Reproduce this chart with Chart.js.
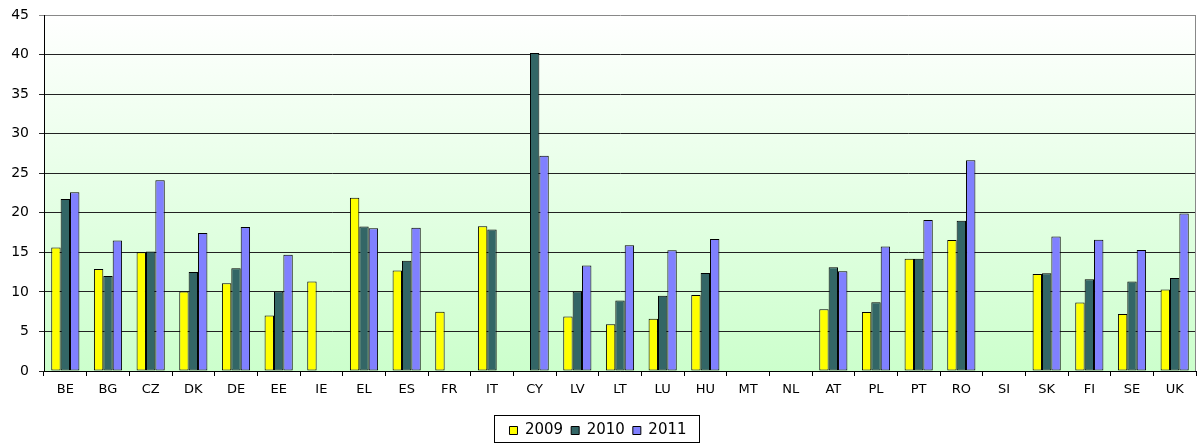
<!DOCTYPE html>
<html>
<head>
<meta charset="utf-8">
<script src="https://cdn.jsdelivr.net/npm/chart.js@4/dist/chart.umd.min.js"></script>
<style>
  html, body { margin: 0; padding: 0; background: #fff; }
  #wrap { width: 1197px; height: 444px; }
</style>
</head>
<body>
<div id="wrap"><canvas id="grafica"></canvas></div>
<script>
const paises = ['BE', 'BG', 'CZ', 'DK', 'DE', 'EE', 'IE', 'EL', 'ES', 'FR', 'IT', 'CY', 'LV', 'LT', 'LU', 'HU', 'MT', 'NL', 'AT', 'PL', 'PT', 'RO', 'SI', 'SK', 'FI', 'SE', 'UK'];
const v2009 = [15.6, 12.9, 15.0, 10.05, 11.1, 7.0, 11.3, 21.9, 12.7, 7.5, 18.3, null, 6.9, 5.9, 6.6, 9.6, null, null, 7.8, 7.45, 14.2, 16.55, null, 12.25, 8.65, 7.2, 10.3];
const v2010 = [21.75, 12.0, 15.1, 12.5, 13.0, 10.05, null, 18.25, 13.95, null, 17.9, 40.2, 10.05, 8.9, 9.5, 12.4, null, null, 13.1, 8.7, 14.2, 19.0, null, 12.35, 11.6, 11.3, 11.75];
const v2011 = [22.6, 16.5, 24.1, 17.45, 18.2, 14.7, null, 18.05, 18.1, null, null, 27.2, 13.35, 15.9, 15.25, 16.7, null, null, 12.6, 15.75, 19.1, 26.65, null, 17.0, 16.6, 15.3, 19.9];
const years = ['2009', '2010', '2011'];
const colores = ['#ffff00', '#336666', '#8080ff'];

const fuente = 'DejaVu Sans, Verdana, sans-serif';

// fondo degradado del area del grafico
const fondo = {
    id: 'fondo',
    beforeDraw: chart => {
        const {ctx, chartArea: a} = chart;
        const g = ctx.createLinearGradient(0, a.top, 0, a.bottom);
        g.addColorStop(0, '#ffffff');
        g.addColorStop(1, '#ccffcc');
        ctx.save();
        ctx.fillStyle = g;
        ctx.fillRect(a.left, a.top, a.right - a.left, a.bottom - a.top);
        ctx.restore();
    },
    afterDraw: chart => {
        const {ctx, chartArea: a} = chart;
        ctx.save();
        ctx.strokeStyle = '#888';
        ctx.lineWidth = 1;
        ctx.beginPath();
        ctx.moveTo(Math.round(a.right) - 0.5, a.top);
        ctx.lineTo(Math.round(a.right) - 0.5, a.bottom);
        ctx.stroke();
        // marco de la leyenda
        const hb = chart.legend.legendHitBoxes;
        if (hb && hb.length) {
            const l = Math.round(hb[0].left) - 15;
            const r = Math.round(hb[hb.length - 1].left + hb[hb.length - 1].width) + 12;
            ctx.strokeStyle = '#000';
            ctx.strokeRect(l + 0.5, 415.5, r - l, 27);
        }
        ctx.restore();
    }
};

const data = {
    labels: paises,
    datasets: [v2009, v2010, v2011].map((serie, i) => ({
        label: years[i],
        data: serie,
        backgroundColor: colores[i],
        borderColor: '#000',
        borderWidth: 1,
        borderSkipped: false,
        barPercentage: 1,
        categoryPercentage: 0.66
    }))
};

const options = {
    responsive: true,
    maintainAspectRatio: false,
    animation: false,
    layout: {padding: {top: 15, right: 1, left: 0, bottom: -4}},
    plugins: {
        legend: {
            position: 'bottom',
            labels: {
                boxWidth: 8,
                boxHeight: 8,
                padding: 8,
                color: '#000',
                font: {family: fuente, size: 15}
            }
        },
        tooltip: {enabled: false}
    },
    scales: {
        x: {
            grid: {drawOnChartArea: false, color: '#000', tickLength: 5, offset: true},
            border: {color: '#000'},
            ticks: {color: '#000', font: {family: fuente, size: 13}, padding: 6, maxRotation: 0, autoSkip: false},
            afterFit: scale => { scale.height = 44; }
        },
        y: {
            min: 0,
            max: 45,
            ticks: {stepSize: 5, color: '#000', font: {family: fuente, size: 14}, padding: 10},
            grid: {
                color: ctx => ctx.tick && ctx.tick.value === 45 ? '#888' : '#222',
                tickLength: 5
            },
            border: {color: '#000'},
            afterFit: scale => {
                scale.width = 44;
                scale.paddingTop = 8;
                scale.paddingBottom = 8;
            }
        }
    }
};

new Chart('grafica', {type: 'bar', data: data, options: options, plugins: [fondo]});
</script>
</body>
</html>
